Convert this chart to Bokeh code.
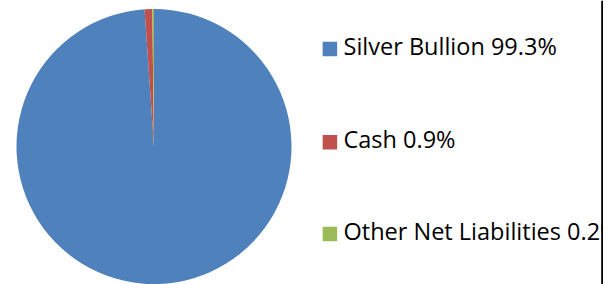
import math
from bokeh.plotting import figure
from bokeh.models import Range1d, Span, ColumnDataSource
from bokeh.core.properties import value
from bokeh.embed import file_html
from bokeh.resources import INLINE

# ---- data ----
categories = ["Silver Bullion", "Cash", "Other Net Liabilities"]
values = [99.3, 0.9, 0.2]
colors = ["#4F81BD", "#C0504D", "#9BBB59"]
labels = [f"{c} {v}%" for c, v in zip(categories, values)]

# ---- geometry (data units == pixels; y measured upward) ----
W, H = 603, 284
total = sum(values)
starts, ends = [], []
cum = 0.0
for v in values:
    starts.append(math.pi / 2 - 2 * math.pi * cum / total)
    cum += v
    ends.append(math.pi / 2 - 2 * math.pi * cum / total)

pie = ColumnDataSource(dict(start=starts, end=ends, color=colors))

p = figure(width=W, height=H, output_backend="svg", toolbar_location=None,
           x_range=Range1d(0, W), y_range=Range1d(0, H),
           x_axis_location=None, y_axis_location=None, min_border=0)
p.grid.visible = False
p.outline_line_color = None
p.background_fill_color = "white"
p.border_fill_color = "white"

p.wedge(x=153.5, y=H - 146, radius=137.5, start_angle="start", end_angle="end",
        direction="clock", fill_color="color", line_color=None, source=pie)

row_sq_y = [H - 48.4, H - 141.7, H - 233.4]
row_tx_y = [H - 45.0, H - 138.5, H - 230.5]
leg = ColumnDataSource(dict(sy=row_sq_y, ty=row_tx_y, color=colors, label=labels))
p.rect(x=329.4, y="sy", width=14.5, height=14.5, fill_color="color",
       line_color=None, source=leg)
p.text(x=343, y="ty", text="label", text_font=value("Open Sans"),
       text_font_size="23.5px", text_baseline="alphabetic", text_align="left",
       text_color="#000000", source=leg)

p.add_layout(Span(location=601.7, dimension="height", line_color="black", line_width=2))

open("out.html", "w").write(file_html(p, INLINE))
